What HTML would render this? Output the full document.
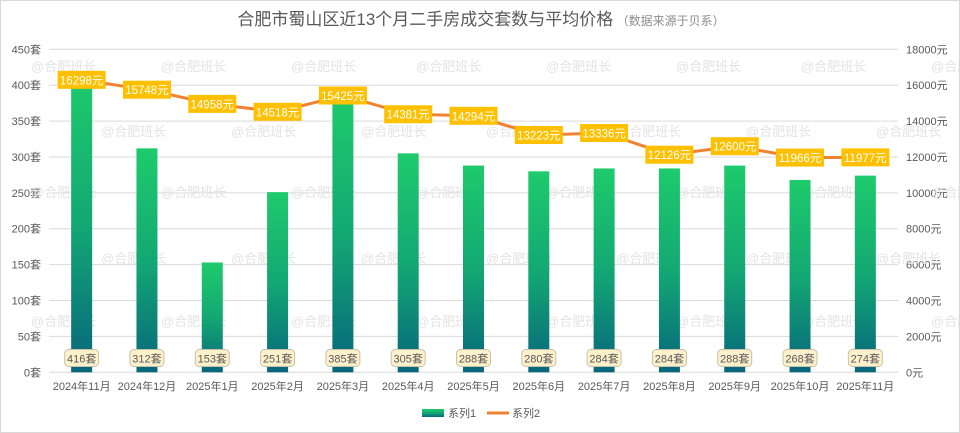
<!DOCTYPE html>
<html><head><meta charset="utf-8"><style>
body{margin:0;background:#fff;font-family:"Liberation Sans","Noto Sans CJK SC",sans-serif}
#wrap{position:relative;width:960px;height:433px;overflow:hidden;border:1px solid #d9d9d9;box-sizing:border-box}
</style></head><body>
<div id="wrap">
<svg id="chart" width="960" height="433"></svg>
</div>
<script>
const categories=["2024年11月","2024年12月","2025年1月","2025年2月","2025年3月","2025年4月","2025年5月","2025年6月","2025年7月","2025年8月","2025年9月","2025年10月","2025年11月"];
const volumes=[416,312,153,251,385,305,288,280,284,284,288,268,274];
const prices=[16298,15748,14958,14518,15425,14381,14294,13223,13336,12126,12600,11966,11977];
const leftTicks=[0,50,100,150,200,250,300,350,400,450];
const rightTicks=[0,2000,4000,6000,8000,10000,12000,14000,16000,18000];
const NS="http://www.w3.org/2000/svg";
const svg=document.getElementById('chart');
const L=48,R=897,T=48.3,B=371.3;
const step=(R-L)/categories.length;
const xC=i=>L+step*(i+0.5);
const yL=v=>B-(v/450)*(B-T);
const yR=v=>B-(v/18000)*(B-T);
function mk(tag,attrs,parent){const e=document.createElementNS(NS,tag);for(const k in attrs)e.setAttribute(k,attrs[k]);(parent||svg).appendChild(e);return e;}
const defs=mk('defs',{});
const g=mk('linearGradient',{id:'barGrad',x1:0,y1:0,x2:0,y2:1},defs);
mk('stop',{offset:'0',"stop-color":'#1ecb6c'},g);
mk('stop',{offset:'0.5',"stop-color":'#13a873'},g);
mk('stop',{offset:'1',"stop-color":'#07667c'},g);
// title
let t=mk('text',{x:480,y:24,"text-anchor":"middle","font-size":17,fill:"#595959"});


t.innerHTML='合肥市蜀山区近13个月二手房成交套数与平均价格<tspan font-size="12" fill="#8c8c8c"> （数据来源于贝系）</tspan>';
// grid + ticks
leftTicks.forEach(v=>{
 const ln=mk('line',{x1:L,x2:R,y1:yL(v),y2:yL(v),stroke:"#d9d9d9","stroke-width":1});
 
 
 const tx=mk('text',{x:40,y:yL(v)+4,"text-anchor":"end","font-size":11,fill:"#595959"});
 
 
 tx.textContent=v+'套';
});
rightTicks.forEach(v=>{
 const tx=mk('text',{x:905,y:yR(v)+4,"text-anchor":"start","font-size":11,fill:"#595959"});
 
 
 tx.textContent=v+'元';
});
// watermarks
const wm=[[30,70],[160,70],[290,70],[415,70],[545,70],[675,70],[800,70],[930,70],[100,135],[230,135],[360,135],[485,135],[615,135],[745,135],[875,135],[30,196],[160,196],[290,196],[415,196],[545,196],[675,196],[800,196],[930,196],[100,262],[230,262],[360,262],[485,262],[615,262],[745,262],[875,262],[30,325],[160,325],[290,325],[415,325],[545,325],[675,325],[800,325],[930,325]];
wm.forEach(p=>{const w=mk('text',{x:p[0],y:p[1],"font-size":13,fill:"#e3e3e3"});
 
 
 w.textContent='@合肥班长';});
// bars
volumes.forEach((v,i)=>{
 const r=mk('rect',{x:xC(i)-10.5,y:yL(v),width:21,height:B-yL(v),fill:"url(#barGrad)"});
 
 
});
// category labels
categories.forEach((c,i)=>{
 const tx=mk('text',{x:xC(i),y:389,"text-anchor":"middle","font-size":11,fill:"#595959"});
 
 
 tx.textContent=c;
});
// bar value labels
volumes.forEach((v,i)=>{
 const bx=mk('rect',{x:xC(i)-17,y:348.5,width:34,height:17,rx:4,fill:"#fdf1cc",stroke:"#c9c0a8","stroke-width":1});
 
 
 const tx=mk('text',{x:xC(i),y:361.5,"text-anchor":"middle","font-size":11,fill:"#595959"});
 
 
 tx.textContent=v+'套';
});
// line
const pts=prices.map((p,i)=>xC(i)+','+yR(p)).join(' ');
const pl=mk('polyline',{points:pts,fill:"none",stroke:"#ef8333","stroke-width":3,"stroke-linejoin":"round"});


prices.forEach((p,i)=>{
 const bx=mk('rect',{x:xC(i)-24,y:yR(p)-9,width:48,height:18,fill:"#ffc000"});
 
 
 const tx=mk('text',{x:xC(i),y:yR(p)+4.5,"text-anchor":"middle","font-size":11.5,fill:"#fff"});
 
 
 tx.textContent=p+'元';
});
// legend
const lg=mk('g',{});


const l1=mk('rect',{x:421,y:408,width:22,height:8,fill:"url(#barGrad)"},lg);


const lt1=mk('text',{x:447,y:416,"font-size":11,fill:"#595959"},lg);


lt1.textContent='系列1';
const l2=mk('line',{x1:486,x2:508,y1:412,y2:412,stroke:"#ef8333","stroke-width":3},lg);


const lt2=mk('text',{x:511,y:416,"font-size":11,fill:"#595959"},lg);


lt2.textContent='系列2';
</script>
</body></html>
